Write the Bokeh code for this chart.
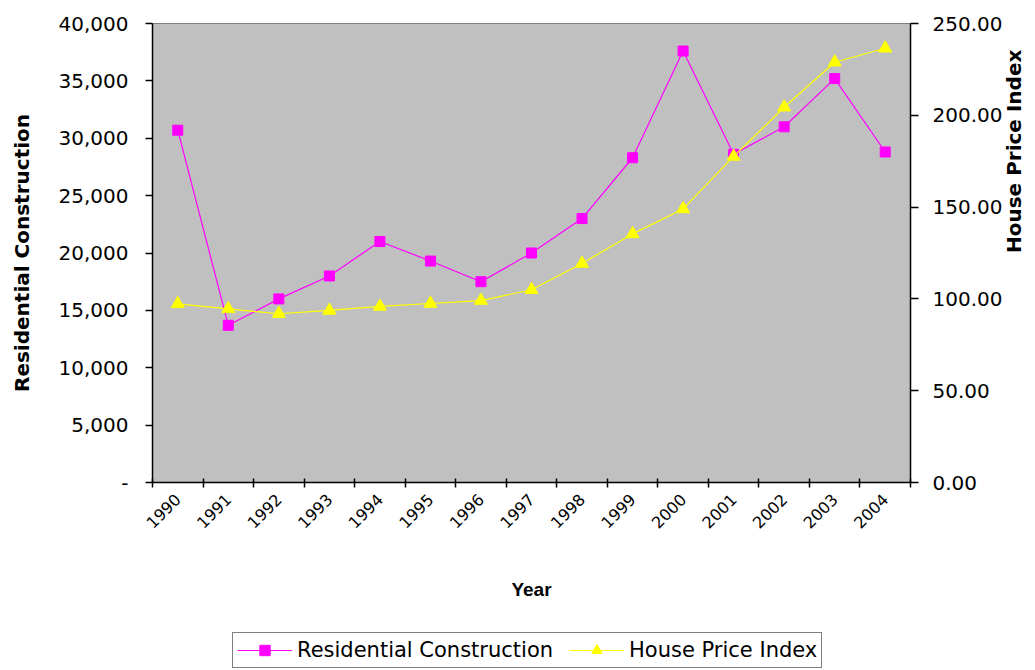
import math
from bokeh.plotting import figure
from bokeh.layouts import column
from bokeh.models import (Range1d, LinearAxis, FixedTicker, SingleIntervalTicker,
                          NumeralTickFormatter, Legend, LegendItem)
from bokeh.embed import file_html
from bokeh.resources import INLINE

years = [1990, 1991, 1992, 1993, 1994, 1995, 1996, 1997, 1998, 1999,
         2000, 2001, 2002, 2003, 2004]
residential = [30700, 13700, 16000, 18000, 21000, 19300, 17500, 20000, 23000, 28300,
               37600, 28600, 31000, 35200, 28800]
hpi = [97.3, 94.6, 91.9, 93.7, 95.9, 97.5, 99.1, 105.0, 119.3, 135.4,
       149.0, 177.6, 204.4, 228.9, 236.5]
series_names = ["Residential Construction", "House Price Index"]

x = [i + 0.5 for i in range(len(years))]

FONT = "DejaVu Sans"
MAGENTA = "#FF00FF"
YELLOW = "#FFFF00"
W = 1027

p = figure(frame_width=758, frame_height=459,
           min_border_left=152, min_border_right=117,
           min_border_top=23, min_border_bottom=132,
           x_range=Range1d(0, len(years)), y_range=Range1d(0, 40000),
           output_backend="svg", toolbar_location=None,
           x_axis_location=None, y_axis_location=None)
p.extra_y_ranges = {"hpi": Range1d(0, 250)}
p.background_fill_color = "#C0C0C0"
p.border_fill_color = "white"
p.outline_line_color = "#808080"
p.outline_line_width = 1
p.xgrid.visible = False
p.ygrid.visible = False

def style_axis(ax):
    ax.axis_line_color = "black"
    ax.axis_line_width = 1.5
    ax.major_tick_line_color = "black"
    ax.major_tick_line_width = 1.5
    ax.minor_tick_line_color = "black"
    ax.minor_tick_line_width = 1.5
    ax.major_label_text_font = FONT
    ax.major_label_text_font_size = "20px"
    ax.major_label_text_color = "black"
    ax.axis_label_text_font = FONT
    ax.axis_label_text_font_style = "bold"
    ax.axis_label_text_font_size = "20px"
    ax.axis_label_text_color = "black"

# x axis
xticker = FixedTicker(ticks=x, minor_ticks=list(range(len(years) + 1)))
xax = LinearAxis(ticker=xticker, axis_label="Year")
style_axis(xax)
xax.major_tick_in = 0
xax.major_tick_out = 0
xax.minor_tick_in = 4
xax.minor_tick_out = 5
xax.major_label_orientation = math.pi / 4
xax.major_label_overrides = {xv: str(y) for xv, y in zip(x, years)}
xax.major_label_text_font_size = "16px"
xax.major_label_standoff = 9
xax.axis_label_standoff = 42
xax.axis_label_text_font = "Liberation Sans"
xax.axis_label_text_font_size = "19px"
p.add_layout(xax, "below")

# left axis
lax = LinearAxis(ticker=SingleIntervalTicker(interval=5000),
                 formatter=NumeralTickFormatter(format="0,0"),
                 axis_label=series_names[0])
style_axis(lax)
lax.major_tick_in = 0
lax.major_tick_out = 7
lax.minor_tick_out = 0
lax.minor_tick_in = 0
lax.major_label_standoff = 17
lax.major_label_overrides = {0: "-"}
lax.axis_label_standoff = 22
p.add_layout(lax, "left")

# right axis
rax = LinearAxis(y_range_name="hpi", ticker=SingleIntervalTicker(interval=50),
                 formatter=NumeralTickFormatter(format="0.00"),
                 axis_label=series_names[1])
style_axis(rax)
rax.major_tick_in = 0
rax.major_tick_out = 8
rax.minor_tick_out = 0
rax.minor_tick_in = 0
rax.major_label_standoff = 14
rax.axis_label_standoff = 9
rax.axis_label_orientation = math.pi / 2
rax.axis_label_text_align = "center"
p.add_layout(rax, "right")

# series
line_kw = [dict(line_color=MAGENTA, line_width=1.2), dict(line_color=YELLOW, line_width=1.2)]
mark_kw = [dict(marker="square", size=10, fill_color=MAGENTA, line_color=MAGENTA),
           dict(marker="triangle", size=13, fill_color=YELLOW, line_color=YELLOW)]

p.line(x, residential, **line_kw[0])
p.scatter(x, residential, **mark_kw[0])
p.line(x, hpi, y_range_name="hpi", **line_kw[1])
p.scatter(x, hpi, y_range_name="hpi", **mark_kw[1])

# legend strip below the chart (proxy renderers lie outside its visible range)
lg = figure(width=W, height=56, x_range=Range1d(0, 1), y_range=Range1d(0, 1),
            output_backend="svg", toolbar_location=None,
            x_axis_location=None, y_axis_location=None, min_border=0)
lg.outline_line_color = None
lg.xgrid.visible = False
lg.ygrid.visible = False
lg.background_fill_color = "white"
lg.border_fill_color = "white"
items = []
for i, name in enumerate(series_names):
    lr = lg.line([-10, -9], [-10, -9], **line_kw[i])
    sr = lg.scatter([-10], [-10], **mark_kw[i])
    items.append(LegendItem(label=name, renderers=[lr, sr]))
legend = Legend(items=items, orientation="horizontal", location=(80, 2))
legend.label_text_font = FONT
legend.label_text_font_size = "21px"
legend.label_text_color = "black"
legend.border_line_color = "black"
legend.border_line_width = 1.2
legend.background_fill_color = "white"
legend.background_fill_alpha = 1
legend.glyph_width = 55
legend.glyph_height = 26
legend.padding = 4
legend.spacing = 16
legend.margin = 0
legend.label_standoff = 5
lg.add_layout(legend, "center")

layout = column(p, lg, spacing=0)
open("out.html", "w").write(file_html(layout, INLINE))
